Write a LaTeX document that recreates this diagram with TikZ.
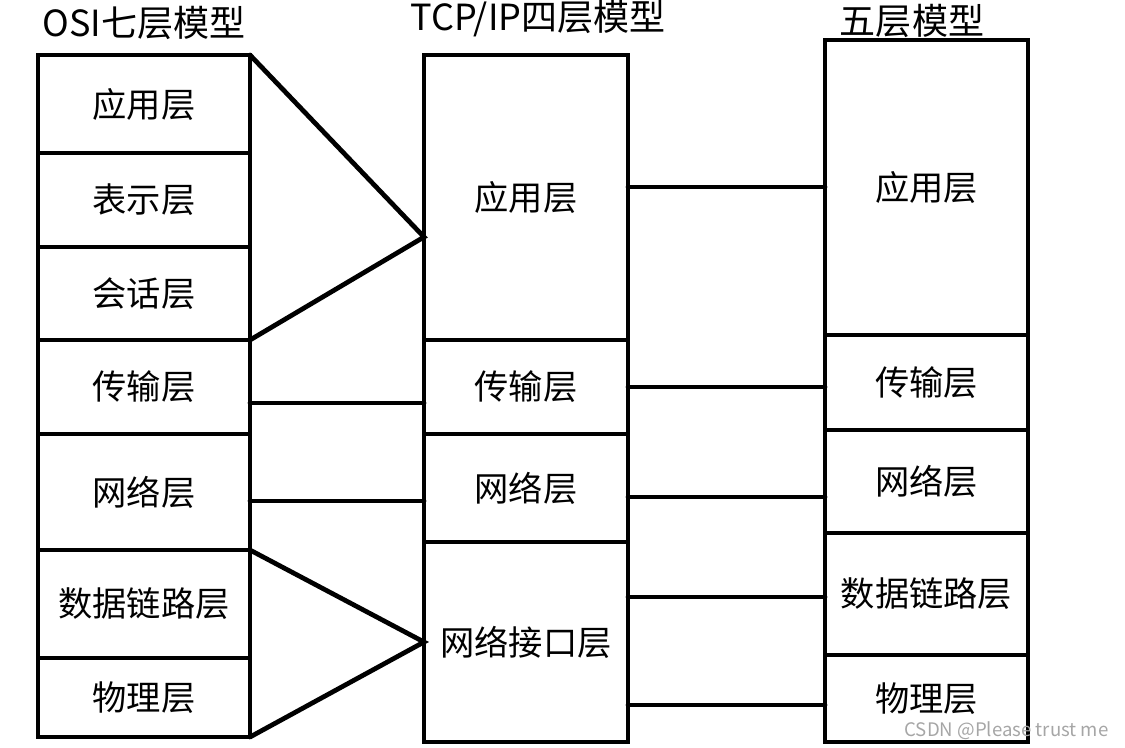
\documentclass[tikz,border=0pt]{standalone}
\usepackage{fontspec}
\setmainfont{Noto Sans CJK SC}
\usepackage{tikz}
\usetikzlibrary{positioning}

\tikzset{
	layer/.style={draw, line width=2.7pt, inner sep=0pt, outer sep=0pt, font=\fontsize{19.5}{22}\selectfont},
	osi/.style={layer, minimum width=4.24cm},
	tcp/.style={layer, minimum width=4.08cm},
	five/.style={layer, minimum width=4.06cm},
	title/.style={inner sep=0pt, font=\fontsize{20.5}{24}\selectfont},
	link/.style={line width=2.7pt, line cap=round},
}

\begin{document}
\begin{tikzpicture}[node distance=0pt]
	\useasboundingbox (0,0) rectangle (22.5,-14.94);

	% Define nodes
	\node[osi, minimum height=1.96cm, anchor=north west] (osiapp) at (0.76,-1.10) {应用层};
	\node[osi, minimum height=1.88cm, below=of osiapp] (osipres) {表示层};
	\node[osi, minimum height=1.86cm, below=of osipres] (osisess) {会话层};
	\node[osi, minimum height=1.88cm, below=of osisess] (ositrans) {传输层};
	\node[osi, minimum height=2.32cm, below=of ositrans] (osinet) {网络层};
	\node[osi, minimum height=2.16cm, below=of osinet] (osidl) {数据链路层};
	\node[osi, minimum height=1.58cm, below=of osidl] (osiphy) {物理层};

	\node[tcp, minimum height=5.70cm, anchor=north west] (tcpapp) at (8.48,-1.10) {应用层};
	\node[tcp, minimum height=1.88cm, below=of tcpapp] (tcptrans) {传输层};
	\node[tcp, minimum height=2.16cm, below=of tcptrans] (tcpnet) {网络层};
	\node[tcp, minimum height=4.00cm, below=of tcpnet] (tcplink) {网络接口层};

	\node[five, minimum height=5.90cm, anchor=north west] (fiveapp) at (16.50,-0.80) {应用层};
	\node[five, minimum height=1.90cm, below=of fiveapp] (fivetrans) {传输层};
	\node[five, minimum height=2.06cm, below=of fivetrans] (fivenet) {网络层};
	\node[five, minimum height=2.44cm, below=of fivenet] (fivedl) {数据链路层};
	\node[five, minimum height=1.74cm, below=of fivedl] (fivephy) {物理层};

	\node[title] (osititle) at (2.88,-0.46) {OSI七层模型};
	\node[title] (tcptitle) at (10.76,-0.38) {TCP/IP四层模型};
	\node[title] (fivetitle) at (18.24,-0.42) {五层模型};

	\node[text=gray!70, font=\fontsize{10.6}{12}\selectfont] (mark) at (20.13,-14.62) {CSDN @Please trust me};

	% Connect the nodes
	\coordinate (apexup) at ([yshift=-0.79cm]tcpapp.west);
	\draw[link] (osiapp.north east) -- (apexup) -- (osisess.south east);
	\draw[link] (osidl.north east) -- (tcplink.west) -- (osiphy.south east);

	\coordinate (ltrans) at ([yshift=-0.32cm]ositrans.east);
	\coordinate (lnet) at ([yshift=-0.18cm]osinet.east);
	\draw[link] (ltrans) -- (ltrans -| tcptrans.west);
	\draw[link] (lnet) -- (lnet -| tcpnet.west);

	\coordinate (rapp) at ([yshift=0.21cm]tcpapp.east);
	\coordinate (rnet) at ([yshift=-0.18cm]tcpnet.east);
	\coordinate (rdl) at ([yshift=0.90cm]tcplink.east);
	\coordinate (rphy) at ([yshift=-1.26cm]tcplink.east);
	\draw[link] (rapp) -- (rapp -| fiveapp.west);
	\draw[link] (tcptrans.east) -- (tcptrans.east -| fivetrans.west);
	\draw[link] (rnet) -- (rnet -| fivenet.west);
	\draw[link] (rdl) -- (rdl -| fivedl.west);
	\draw[link] (rphy) -- (rphy -| fivephy.west);
\end{tikzpicture}
\end{document}
